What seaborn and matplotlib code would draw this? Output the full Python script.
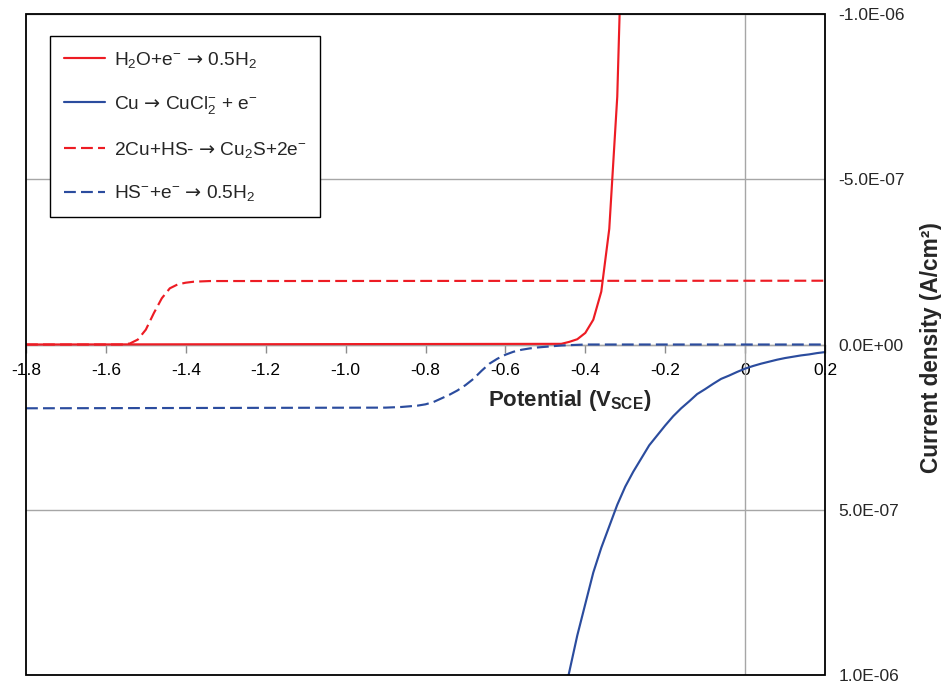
import numpy as np
import pandas as pd
import matplotlib
matplotlib.use("Agg")
import matplotlib.pyplot as plt
import seaborn as sns
from matplotlib.patches import Rectangle

# ---------------- data (potential in V_SCE, current density in 1e-6 A/cm2) ----
ARROW = "$\\mathsf{→}$"
series_names = [
    "H$_2$O+e$^{-}$ " + ARROW + " 0.5H$_2$",
    "Cu " + ARROW + " CuCl$_2^{-}$ + e$^{-}$",
    "2Cu+HS- " + ARROW + " Cu$_2$S+2e$^{-}$",
    "HS$^{-}$+e$^{-}$ " + ARROW + " 0.5H$_2$",
]

h2o_E = [-1.8, -0.46, -0.44, -0.42, -0.40, -0.38, -0.36, -0.34, -0.32, -0.30]
h2o_i = [0.0, -0.002, -0.008, -0.016, -0.035, -0.075, -0.16, -0.35, -0.75, -1.6]

cu_E = [-0.46, -0.44, -0.42, -0.40, -0.38, -0.36, -0.34, -0.32, -0.30, -0.28,
        -0.26, -0.24, -0.22, -0.20, -0.18, -0.16, -0.14, -0.12, -0.10, -0.08,
        -0.06, -0.04, -0.02, 0.00, 0.02, 0.04, 0.06, 0.08, 0.10, 0.12,
        0.14, 0.16, 0.18, 0.20]
cu_i = [1.10, 0.99, 0.88, 0.785, 0.69, 0.615, 0.55, 0.485, 0.43, 0.385,
        0.345, 0.305, 0.275, 0.245, 0.217, 0.193, 0.172, 0.150, 0.135, 0.119,
        0.104, 0.094, 0.083, 0.073, 0.065, 0.058, 0.052, 0.046, 0.041, 0.037,
        0.033, 0.030, 0.026, 0.023]

cu2s_E = [-1.8, -1.56, -1.54, -1.52, -1.50, -1.48, -1.46, -1.44, -1.42, -1.40,
          -1.38, -1.36, -1.34, 0.2]
cu2s_i = [0.0, 0.0, -0.003, -0.015, -0.045, -0.095, -0.14, -0.170, -0.182,
          -0.187, -0.190, -0.191, -0.192, -0.193]

hs_E = [-1.8, -0.90, -0.86, -0.82, -0.80, -0.78, -0.76, -0.74, -0.72, -0.70,
        -0.68, -0.66, -0.64, -0.62, -0.60, -0.58, -0.56, -0.54, -0.52, -0.50,
        -0.48, -0.46, -0.44, -0.42, -0.40, 0.2]
hs_i = [0.193, 0.191, 0.189, 0.185, 0.181, 0.174, 0.163, 0.152, 0.139, 0.123,
        0.104, 0.080, 0.058, 0.043, 0.031, 0.022, 0.016, 0.012, 0.009, 0.007,
        0.005, 0.003, 0.002, 0.001, 0.0, 0.0]

x_ticks = [-1.8, -1.6, -1.4, -1.2, -1.0, -0.8, -0.6, -0.4, -0.2, 0.0, 0.2]
x_tick_labels = ["-1.8", "-1.6", "-1.4", "-1.2", "-1.0", "-0.8", "-0.6",
                 "-0.4", "-0.2", "0", "0.2"]
y_ticks = [-1e-6, -5e-7, 0.0, 5e-7, 1e-6]
y_tick_labels = ["-1.0E-06", "-5.0E-07", "0.0E+00", "5.0E-07", "1.0E-06"]

# ---------------- styling ----------------
RED = "#ED1C24"
BLUE = "#2B4C9E"
colors = [RED, BLUE, RED, BLUE]
dash_styles = ["", "", (5.5, 2.4), (5.5, 2.4)]

sns.set_style("white")
plt.rcParams["font.family"] = ["Liberation Sans", "DejaVu Sans"]
plt.rcParams["mathtext.fontset"] = "custom"
plt.rcParams["mathtext.rm"] = "Liberation Sans"
plt.rcParams["mathtext.it"] = "Liberation Sans:italic"
plt.rcParams["mathtext.bf"] = "Liberation Sans:bold"
plt.rcParams["mathtext.sf"] = "DejaVu Sans"
plt.rcParams["mathtext.default"] = "regular"

frames = []
for name, E, i in zip(series_names, [h2o_E, cu_E, cu2s_E, hs_E],
                      [h2o_i, cu_i, cu2s_i, hs_i]):
    frames.append(pd.DataFrame({"E": E, "i": np.array(i) * 1e-6, "series": name}))
df = pd.concat(frames, ignore_index=True)

fig = plt.figure(figsize=(9.41, 6.81), dpi=100)
ax = fig.add_axes([26 / 941, 1 - 675 / 681, 799 / 941, 661 / 681])

sns.lineplot(data=df, x="E", y="i", hue="series", style="series",
             hue_order=series_names, style_order=series_names,
             palette=dict(zip(series_names, colors)),
             dashes=dict(zip(series_names, dash_styles)),
             sort=False, estimator=None, linewidth=1.55, ax=ax, zorder=4)

ax.set_xlim(-1.8, 0.2)
ax.set_ylim(1e-6, -1e-6)

# grid / reference axes
ax.set_axisbelow(True)
ax.yaxis.grid(True, color="#a6a6a6", linewidth=1.0)
ax.xaxis.grid(False)
ax.axvline(0, color="#a6a6a6", linewidth=1.0, zorder=1)

# spines: bottom spine acts as category axis at y=0
for s in ["top", "left", "right"]:
    ax.spines[s].set_visible(False)
ax.spines["bottom"].set_position(("data", 0))
ax.spines["bottom"].set_color("#a6a6a6")
ax.spines["bottom"].set_linewidth(1.0)
ax.add_patch(Rectangle((0, 0), 1, 1, transform=ax.transAxes, fill=False,
                       edgecolor="black", linewidth=1.3, clip_on=False, zorder=6))

ax.set_xticks(x_ticks)
ax.set_xticklabels(x_tick_labels)
ax.tick_params(axis="x", bottom=True, direction="out", length=6, width=1.0,
               color="#8c8c8c", pad=7, labelsize=12.5, labelcolor="black")

ax.set_yticks(y_ticks)
ax.set_yticklabels(y_tick_labels)
ax.tick_params(axis="y", left=False, right=True, labelleft=False,
               labelright=True, length=0, pad=9.5, labelsize=12.5)

ax.xaxis.set_label_position("bottom")
ax.set_xlabel("Potential (V$_{\\mathbf{SCE}}$)", fontsize=16,
              fontweight="bold", va="center", ha="center")
ax.xaxis.set_label_coords(0.68, 0.416)

ax.yaxis.set_label_position("right")
ax.set_ylabel("Current density (A/cm²)", fontsize=16.3, fontweight="bold",
              rotation=90, va="center", ha="center")
ax.yaxis.set_label_coords(1.133, 0.495)

handles, labels = ax.get_legend_handles_labels()
leg = ax.legend(handles, labels, loc="upper left",
                bbox_to_anchor=(0.030, 0.967), borderaxespad=0,
                frameon=True, fancybox=False, edgecolor="black",
                framealpha=1, fontsize=13.8, handlelength=2.15,
                handletextpad=0.45, labelspacing=1.25, borderpad=0.72)
leg.get_frame().set_linewidth(1.0)
leg.set_zorder(7)

fig.savefig("out.png", dpi=100)
